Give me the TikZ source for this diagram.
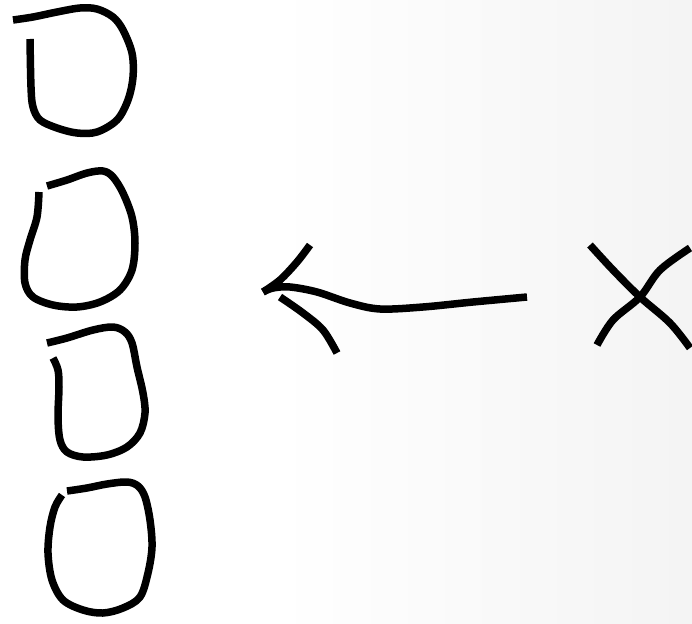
\documentclass[tikz,border=0pt]{standalone}
\pgfdeclarehorizontalshading{bgshade}{100bp}{color(0bp)=(white); color(45bp)=(white); color(100bp)=(black!8)}
\begin{document}
\begin{tikzpicture}[x=1pt,y=-1pt,
  ink/.style={line width=7.5pt,line join=round,line cap=butt,black}]
\useasboundingbox (0,0) rectangle (692,623);
\shade[shading=bgshade] (0,0) rectangle (692,623);
% loop 1
\draw[ink] plot[smooth,tension=0.55] coordinates {(13,20) (33,17) (57,12) (80,8) (97,9) (113,17) (123,30) (132,53) (133,77) (128,100) (117,120) (97,132) (77,133) (57,128) (40,120) (33,107) (31,87) (30,39)};
% loop 2
\draw[ink] plot[smooth,tension=0.55] coordinates {(47,186) (67,180) (87,173) (103,171) (113,177) (123,193) (132,217) (135,243) (132,270) (120,290) (100,302) (77,307) (53,305) (33,297) (25,283) (25,260) (30,240) (37,217) (39,192)};
% loop 3
\draw[ink] plot[smooth,tension=0.55] coordinates {(47,343) (67,338) (93,330) (113,327) (125,332) (132,343) (137,367) (143,393) (145,413) (140,433) (127,447) (107,455) (83,457) (67,452) (60,440) (58,417) (59,387) (58,370) (53,358)};
% loop 4
\draw[ink] plot[smooth,tension=0.55] coordinates {(67,491) (87,488) (107,484) (127,482) (138,486) (145,497) (150,520) (152,547) (148,573) (140,597) (123,608) (103,613) (83,610) (63,600) (52,580) (48,553) (50,527) (55,507) (62,495)};
% arrow
\draw[ink] plot[smooth,tension=0.55] coordinates {(527,297) (473,302) (423,307) (380,309) (350,303) (317,292) (290,287) (273,288) (263,292)};
\draw[ink] plot[smooth,tension=0.55] coordinates {(310,245) (297,262) (280,280) (263,292)};
\draw[ink] plot[smooth,tension=0.55] coordinates {(280,297) (303,313) (323,330) (337,353)};
% X
\draw[ink] plot[smooth,tension=0.55] coordinates {(590,245) (613,270) (640,297) (670,323) (690,348)};
\draw[ink] plot[smooth,tension=0.55] coordinates {(690,248) (660,270) (640,297) (613,320) (597,345)};
\end{tikzpicture}
\end{document}
